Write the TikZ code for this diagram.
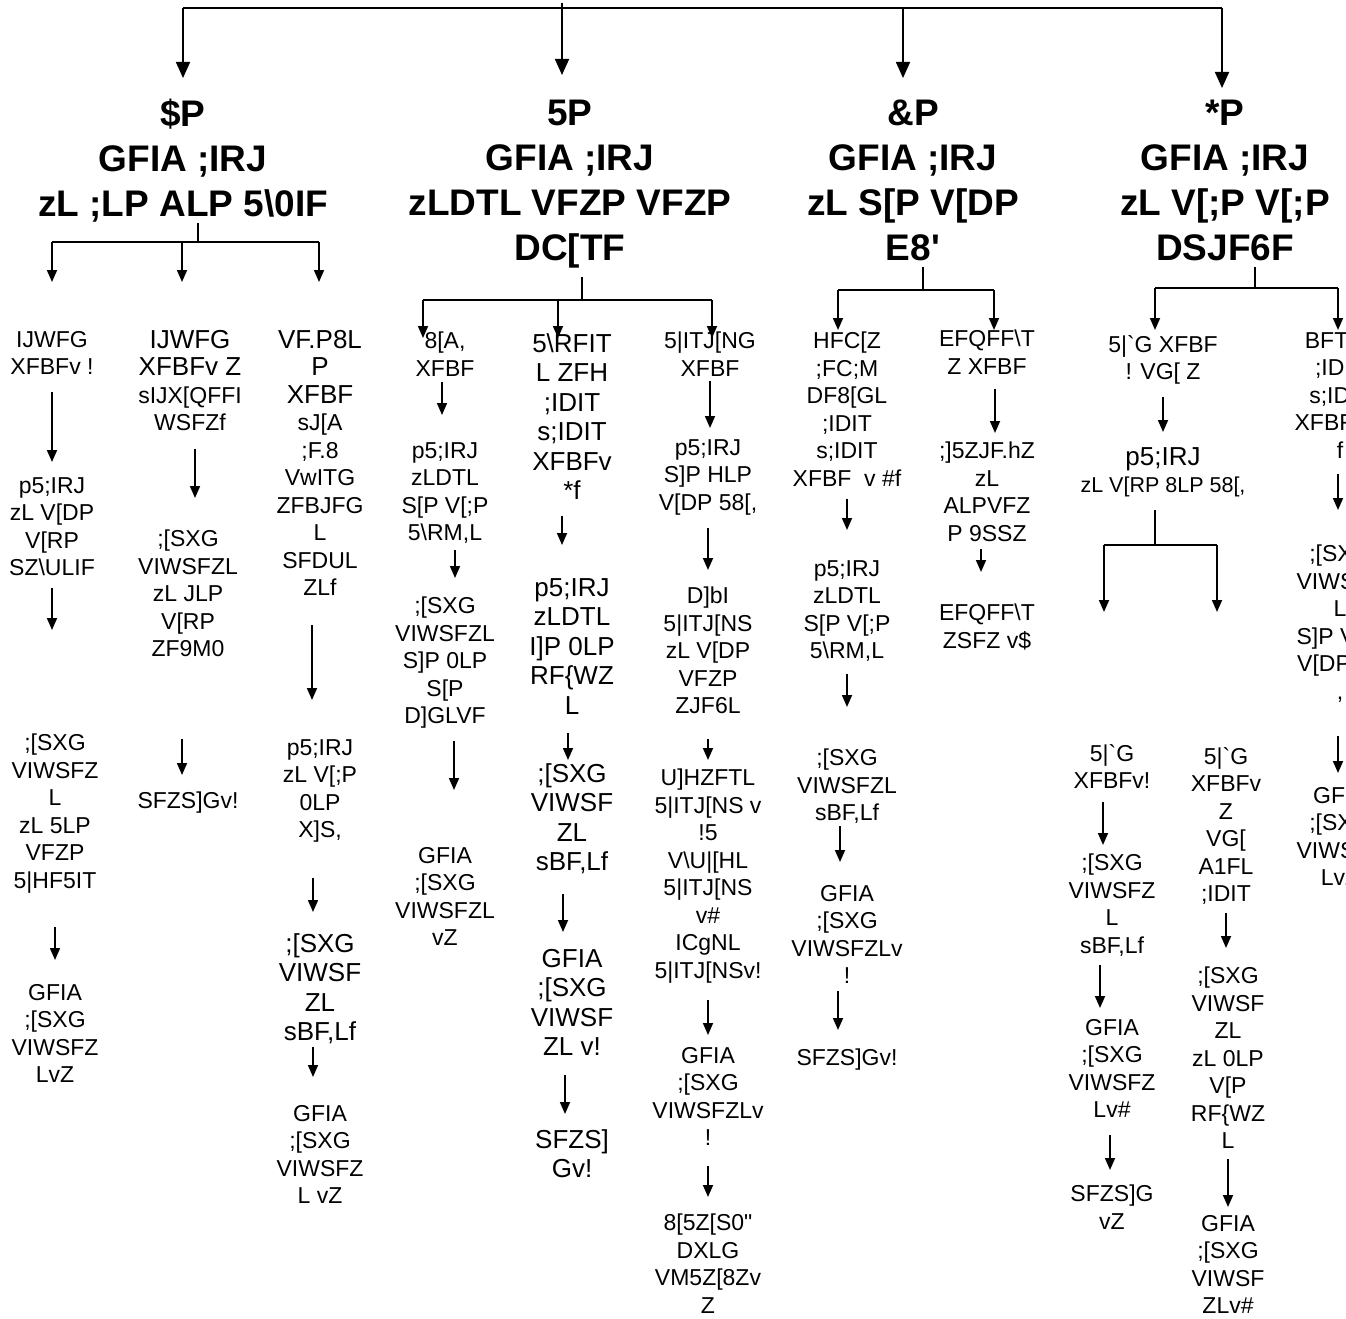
\documentclass[tikz,border=0pt]{standalone}
\usepackage{fontspec}
\setmainfont{Liberation Sans}
\usetikzlibrary{arrows.meta, calc}
\newcommand\bigsz{\fontsize{26}{29.5}\selectfont}
\newcommand\normsz{\fontsize{23}{27.5}\selectfont}
\newcommand\smallsz{\fontsize{21.5}{27}\selectfont}
\tikzset{
  topic/.style={align=center,anchor=north,inner sep=0pt,font=\bfseries\fontsize{37}{45}\selectfont},
  leaf/.style={align=center,anchor=north,inner sep=0pt,font=\normsz},
  leafb/.style={leaf,font=\bigsz},
  wire/.style={line width=1.7pt},
  flow/.style={wire,-{Triangle[width=10pt,length=12pt]}},
  flowbig/.style={wire,-{Triangle[width=14pt,length=16pt]}},
}

\begin{document}
\begin{tikzpicture}[x=1pt,y=-1pt]
	    \clip (0,0) rectangle (1346,1319);
	    \node[topic] (hA) at (183,99) {\$P\\GFIA ;IRJ\\zL ;LP ALP 5\textbackslash 0IF};
	    \node[topic] (hB) at (570,100) {5P\\GFIA ;IRJ\\zLDTL VFZP VFZP\\DC[TF};
	    \node[topic] (hC) at (913,100) {\&P\\GFIA ;IRJ\\zL S[P V[DP\\E8\textquotesingle};
	    \node[topic] (hD) at (1225,100) {*P\\GFIA ;IRJ\\zL V[;P V[;P\\DSJF6F};
	    \coordinate (busA) at (183,8);
	    \coordinate (busB) at (562,8);
	    \coordinate (busC) at (903,8);
	    \coordinate (busD) at (1222,8);
	    \draw[wire] (busA) -- (busD);
	    \draw[flowbig,shorten >=21pt] (busA) -- (busA |- hA.north);
	    \draw[flowbig,shorten >=25pt] ([yshift=5pt]busB) -- (busB |- hB.north);
	    \draw[flowbig,shorten >=22pt] (busC) -- (busC |- hC.north);
	    \draw[flowbig,shorten >=12pt] (busD) -- (busD |- hD.north);

	    \node[leaf] (a11) at (52,331) {IJWFG\\XFBFv !};
	    \node[leaf] (a12) at (52,477) {p5;IRJ\\zL V[DP\\V[RP\\SZ\textbackslash ULIF};
	    \node[leaf] (a13) at (55,734) {;[SXG\\VIWSFZ\\L\\zL 5LP\\VFZP\\5\textbar HF5IT};
	    \node[leaf] (a14) at (55,984) {GFIA\\;[SXG\\VIWSFZ\\LvZ};
	    \node[leaf] (a21) at (190,330) {\bigsz IJWFG\\\bigsz XFBFv Z\\\normsz sIJX[QFFI\\\normsz WSFZf};
	    \node[leaf] (a22) at (188,530) {;[SXG\\VIWSFZL\\zL JLP\\V[RP\\ZF9M0};
	    \node[leaf] (a23) at (188,792) {SFZS]Gv!};
	    \node[leaf] (a31) at (320,330) {\bigsz VF.P8L\\\bigsz P\\\bigsz XFBF\\\normsz sJ[A\\\normsz ;F.8\\VwITG\\ZFBJFG\\L\\SFDUL\\ZLf};
	    \node[leaf] (a32) at (320,739) {p5;IRJ\\zL V[;P\\0LP\\X]S,};
	    \node[leafb] (a33) at (320,933) {;[SXG\\VIWSF\\ZL\\sBF,Lf};
	    \node[leaf] (a34) at (320,1105) {GFIA\\;[SXG\\VIWSFZ\\L vZ};

	    \node[leaf] (b11) at (445,332) {8[A,\\XFBF};
	    \node[leaf] (b12) at (445,442) {p5;IRJ\\zLDTL\\S[P V[;P\\5\textbackslash RM,L};
	    \node[leaf] (b13) at (445,597) {;[SXG\\VIWSFZL\\S]P 0LP\\S[P\\D]GLVF};
	    \node[leaf] (b14) at (445,847) {GFIA\\;[SXG\\VIWSFZL\\vZ};
	    \node[leafb] (b21) at (572,333) {5\textbackslash RFIT\\L ZFH\\;IDIT\\s;IDIT\\XFBFv\\{}*f};
	    \node[leafb] (b22) at (572,578) {p5;IRJ\\zLDTL\\I]P 0LP\\RF\{WZ\\L};
	    \node[leafb] (b23) at (572,763) {;[SXG\\VIWSF\\ZL\\sBF,Lf};
	    \node[leafb] (b24) at (572,949) {GFIA\\;[SXG\\VIWSF\\ZL v!};
	    \node[leafb] (b25) at (572,1129) {SFZS]\\Gv!};
	    \node[leaf] (b31) at (710,332) {5\textbar ITJ[NG\\XFBF};
	    \node[leaf] (b32) at (708,439) {p5;IRJ\\S]P HLP\\V[DP 58[,};
	    \node[leaf] (b33) at (708,587) {D]bI\\5\textbar ITJ[NS\\zL V[DP\\VFZP\\ZJF6L};
	    \node[leaf] (b34) at (708,769) {U]HZFTL\\5\textbar ITJ[NS v\\!5\\V\textbackslash U\textbar[HL\\5\textbar ITJ[NS\\v\#\\ICgNL\\5\textbar ITJ[NSv!};
	    \node[leaf] (b35) at (708,1047) {GFIA\\;[SXG\\VIWSFZLv\\!};
	    \node[leaf] (b36) at (708,1214) {8[5Z[S0\textquotedbl\\DXLG\\VM5Z[8Zv\\Z};

	    \node[leaf] (c11) at (847,332) {HFC[Z\\;FC;M\\DF8[GL\\;IDIT\\s;IDIT\\XFBF\ \ v \#f};
	    \node[leaf] (c12) at (847,560) {p5;IRJ\\zLDTL\\S[P V[;P\\5\textbackslash RM,L};
	    \node[leaf] (c13) at (847,749) {;[SXG\\VIWSFZL\\sBF,Lf};
	    \node[leaf] (c14) at (847,885) {GFIA\\;[SXG\\VIWSFZLv\\!};
	    \node[leaf] (c15) at (847,1049) {SFZS]Gv!};
	    \node[leaf] (c21) at (987,330) {EFQFF\textbackslash T\\Z XFBF};
	    \node[leaf] (c22) at (987,442) {;]5ZJF.hZ\\zL\\ALPVFZ\\P 9SSZ};
	    \node[leaf] (c23) at (987,604) {EFQFF\textbackslash T\\ZSFZ v\$};

	    \node[leaf] (d11) at (1163,335) {5\textbar\textasciigrave G XFBF\\! VG[ Z};
	    \node[leaf] (d12) at (1163,447) {\bigsz p5;IRJ\\\smallsz zL V[RP 8LP 58[,};
	    \node[leaf] (d2a) at (1112,744) {5\textbar\textasciigrave G\\XFBFv!};
	    \node[leaf] (d2b) at (1112,854) {;[SXG\\VIWSFZ\\L\\sBF,Lf};
	    \node[leaf] (d2c) at (1112,1019) {GFIA\\;[SXG\\VIWSFZ\\Lv\#};
	    \node[leaf] (d2d) at (1112,1185) {SFZS]G\\vZ};
	    \node[leaf] (d3a) at (1226,747) {5\textbar\textasciigrave G\\XFBFv\\Z\\VG[\\A1FL\\;IDIT};
	    \node[leaf] (d3b) at (1228,967) {;[SXG\\VIWSF\\ZL\\zL 0LP\\V[P\\RF\{WZ\\L};
	    \node[leaf] (d3c) at (1228,1215) {GFIA\\;[SXG\\VIWSF\\ZLv\#};
	    \node[leaf] (d21) at (1340,332) {BFTZL\\;IDIT\\s;IDIT\\XFBFv Z\\f};
	    \node[leaf] (d22) at (1340,545) {;[SXG\\VIWSFZ\\L\\S]P V[;P\\V[DP 8L\\,};
	    \node[leaf] (d23) at (1340,787) {GFIA\\;[SXG\\VIWSFZ\\LvZ};

	    \coordinate (jA) at (198,242);
	    \coordinate (jA1) at (52,242);
	    \coordinate (jA2) at (182,242);
	    \coordinate (jA3) at (319,242);
	    \draw[wire] (jA |- hA.south) -- (jA);
	    \draw[wire] (jA1) -- (jA3);
	    \draw[flow,shorten >=49pt] (jA1) -- (jA1 |- a11.north);
	    \draw[flow,shorten >=48pt] (jA2) -- (jA2 |- a21.north);
	    \draw[flow,shorten >=48pt] (jA3) -- (jA3 |- a31.north);
	    \coordinate (jB) at (582,300);
	    \coordinate (jB1) at (423,300);
	    \coordinate (jB2) at (558,300);
	    \coordinate (jB3) at (712,300);
	    \draw[wire,shorten <=8pt] (jB |- hB.south) -- (jB);
	    \draw[wire] (jB1) -- (jB3);
	    \draw[flow,shorten >=-6pt] (jB1) -- (jB1 |- b11.north);
	    \draw[flow,shorten >=-5pt] (jB2) -- (jB2 |- b21.north);
	    \draw[flow,shorten >=-6pt] (jB3) -- (jB3 |- b31.north);
	    \coordinate (jC) at (923,290);
	    \coordinate (jC1) at (838,290);
	    \coordinate (jC2) at (994,290);
	    \draw[wire,shorten <=6pt] (jC |- hC.south) -- (jC);
	    \draw[wire] (jC1) -- (jC2);
	    \draw[flow,shorten >=2pt] (jC1) -- (jC1 |- c11.north);
	    \draw[flow,shorten >=0pt] (jC2) -- (jC2 |- c21.north);
	    \coordinate (jD) at (1255,288);
	    \coordinate (jD1) at (1155,288);
	    \coordinate (jD2) at (1338,288);
	    \draw[wire,shorten <=6pt] (jD |- hD.south) -- (jD);
	    \draw[wire] (jD1) -- (jD2);
	    \draw[flow,shorten >=5pt] (jD1) -- (jD1 |- d11.north);
	    \draw[flow,shorten >=2pt] (jD2) -- (jD2 |- d21.north);
	    \coordinate (jE) at (1155,545);
	    \coordinate (jE1) at (1104,545);
	    \coordinate (jE2) at (1217,545);
	    \draw[wire,shorten <=13pt] (jE |- d12.south) -- (jE);
	    \draw[wire] (jE1) -- (jE2);
	    \draw[flow,shorten >=132pt] (jE1) -- (jE1 |- d2a.north);
	    \draw[flow,shorten >=135pt] (jE2) -- (jE2 |- d3a.north);

	    \draw[flow,shorten <=17pt,shorten >=15pt] (a11.south) -- (a11.south |- a12.north);
	    \draw[flow,shorten <=12pt,shorten >=104pt] (a12.south) -- (a12.south |- a13.north);
	    \draw[flow,shorten <=34pt,shorten >=24pt] (a13.south) -- (a13.south |- a14.north);
	    \draw[flow,shorten <=18pt,shorten >=32pt] ([xshift=5pt]a21.south) -- ([xshift=5pt]a21.south |- a22.north);
	    \draw[flow,shorten <=82pt,shorten >=17pt] ([xshift=-6pt]a22.south) -- ([xshift=-6pt]a22.south |- a23.north);
	    \draw[flow,shorten <=29pt,shorten >=39pt] ([xshift=-8pt]a31.south) -- ([xshift=-8pt]a31.south |- a32.north);
	    \draw[flow,shorten <=35pt,shorten >=21pt] ([xshift=-7pt]a32.south) -- ([xshift=-7pt]a32.south |- a33.north);
	    \draw[flow,shorten <=3pt,shorten >=28pt] ([xshift=-7pt]a33.south) -- ([xshift=-7pt]a33.south |- a34.north);

	    \draw[flow,shorten <=5pt,shorten >=27pt] ([xshift=-3pt]b11.south) -- ([xshift=-3pt]b11.south |- b12.north);
	    \draw[flow,shorten <=6pt,shorten >=19pt] ([xshift=10pt]b12.south) -- ([xshift=10pt]b12.south |- b13.north);
	    \draw[flow,shorten <=12pt,shorten >=57pt] ([xshift=9pt]b13.south) -- ([xshift=9pt]b13.south |- b14.north);
	    \draw[flow,shorten <=16pt,shorten >=33pt] ([xshift=-10pt]b21.south) -- ([xshift=-10pt]b21.south |- b22.north);
	    \draw[flow,shorten <=19pt,shorten >=3pt] ([xshift=-4pt]b22.south) -- ([xshift=-4pt]b22.south |- b23.north);
	    \draw[flow,shorten <=20pt,shorten >=17pt] ([xshift=-9pt]b23.south) -- ([xshift=-9pt]b23.south |- b24.north);
	    \draw[flow,shorten <=19pt,shorten >=15pt] ([xshift=-7pt]b24.south) -- ([xshift=-7pt]b24.south |- b25.north);
	    \draw[flow,shorten <=4pt,shorten >=11pt] (b31.south) -- (b31.south |- b32.north);
	    \draw[flow,shorten <=13pt,shorten >=17pt] (b32.south) -- (b32.south |- b33.north);
	    \draw[flow,shorten <=25pt,shorten >=9pt] (b33.south) -- (b33.south |- b34.north);
	    \draw[flow,shorten <=17pt,shorten >=12pt] (b34.south) -- (b34.south |- b35.north);
	    \draw[flow,shorten <=20pt,shorten >=17pt] (b35.south) -- (b35.south |- b36.north);

	    \draw[flow,shorten <=12pt,shorten >=30pt] (c11.south) -- (c11.south |- c12.north);
	    \draw[flow,shorten <=12pt,shorten >=42pt] (c12.south) -- (c12.south |- c13.north);
	    \draw[flow,shorten <=2pt,shorten >=23pt] ([xshift=-7pt]c13.south) -- ([xshift=-7pt]c13.south |- c14.north);
	    \draw[flow,shorten <=7pt,shorten >=19pt] ([xshift=-9pt]c14.south) -- ([xshift=-9pt]c14.south |- c15.north);
	    \draw[flow,shorten <=14pt,shorten >=9pt] ([xshift=8pt]c21.south) -- ([xshift=8pt]c21.south |- c22.north);
	    \draw[flow,shorten <=7pt,shorten >=32pt] ([xshift=-6pt]c22.south) -- ([xshift=-6pt]c22.south |- c23.north);

	    \draw[flow,shorten <=12pt,shorten >=15pt] (d11.south) -- (d11.south |- d12.north);
	    \draw[flow,shorten <=16pt,shorten >=35pt] ([xshift=-2pt]d21.south) -- ([xshift=-2pt]d21.south |- d22.north);
	    \draw[flow,shorten <=33pt,shorten >=14pt] ([xshift=-2pt]d22.south) -- ([xshift=-2pt]d22.south |- d23.north);
	    \draw[flow,shorten <=13pt,shorten >=9pt] ([xshift=-9pt]d2a.south) -- ([xshift=-9pt]d2a.south |- d2b.north);
	    \draw[flow,shorten <=8pt,shorten >=11pt] ([xshift=-12pt]d2b.south) -- ([xshift=-12pt]d2b.south |- d2c.north);
	    \draw[flow,shorten <=17pt,shorten >=15pt] ([xshift=-2pt]d2c.south) -- ([xshift=-2pt]d2c.south |- d2d.north);
	    \draw[flow,shorten <=8pt,shorten >=19pt] (d3a.south) -- (d3a.south |- d3b.north);
	    \draw[flow,shorten <=10pt,shorten >=8pt] (d3b.south) -- (d3b.south |- d3c.north);
\end{tikzpicture}
\end{document}
